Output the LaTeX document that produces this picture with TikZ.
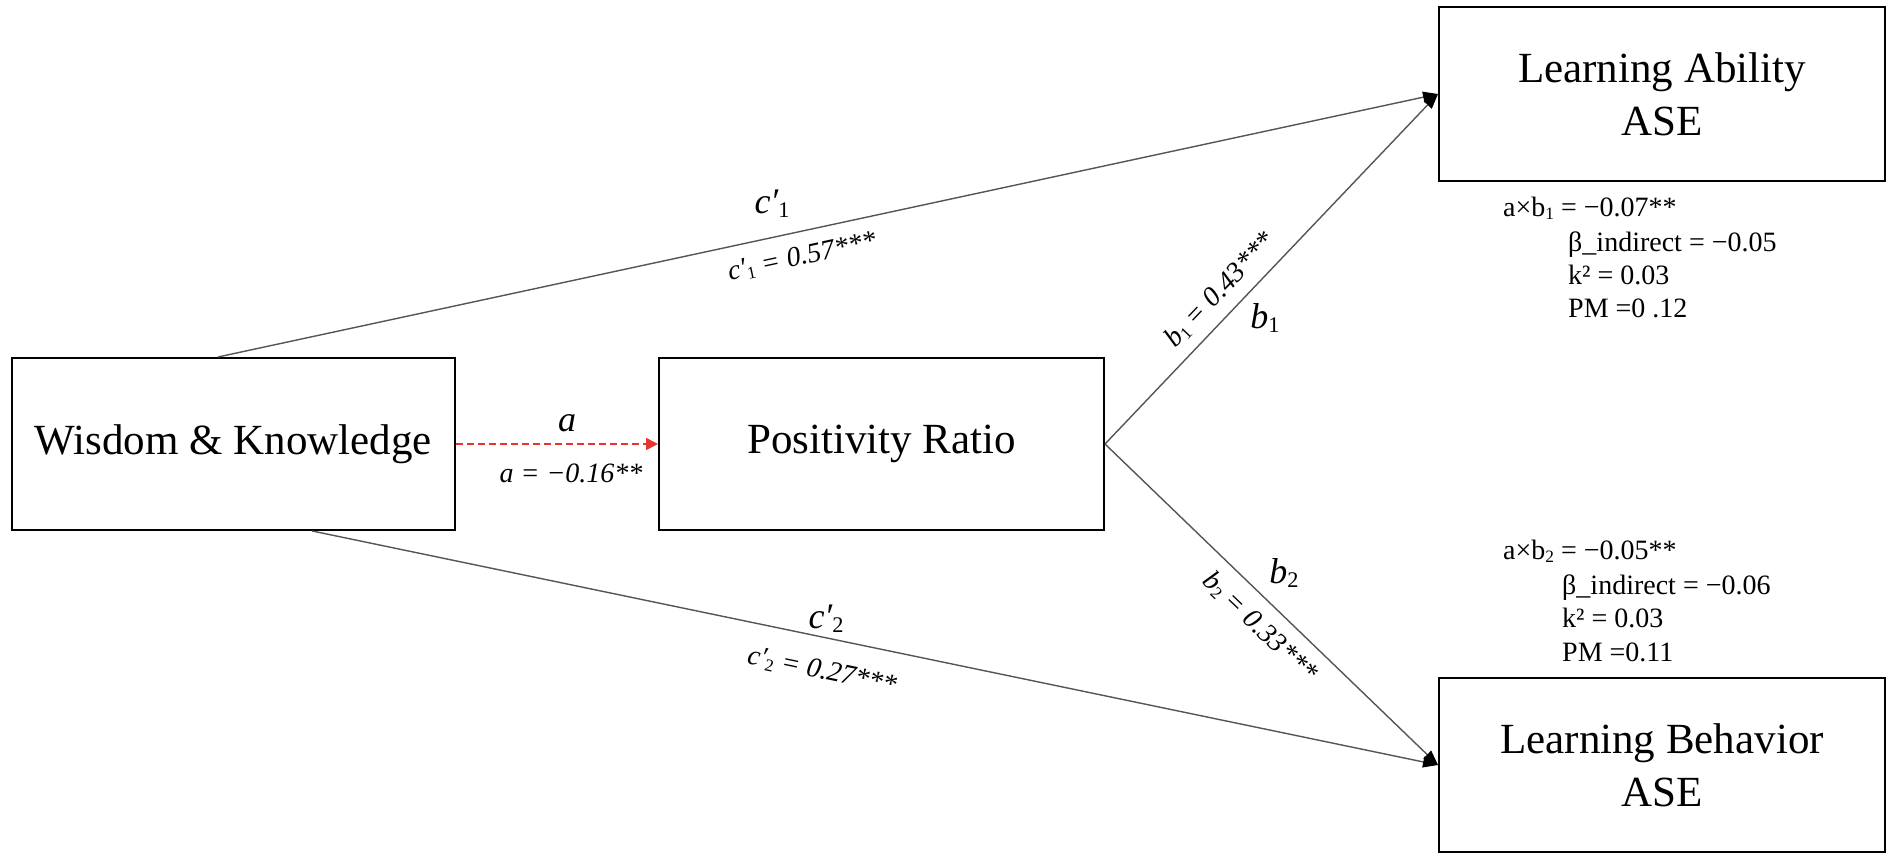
\documentclass[tikz,border=0pt]{standalone}
\usepackage{fontspec}
\usepackage{graphicx}
\setmainfont{Liberation Serif}
\usetikzlibrary{arrows.meta,calc}
\definecolor{dashred}{RGB}{232,52,48}
\definecolor{linegray}{RGB}{85,85,85}
\newcommand\lsub[1]{\raisebox{-0.12em}{\scalebox{0.62}{\upshape #1}}}
\begin{document}
\begin{tikzpicture}[x=1pt,y=-1pt,
  box/.style={draw=black,line width=2pt,inner sep=0pt,align=center,font=\fontsize{43}{53}\selectfont},
  conn/.style={draw=linegray,line width=1.4pt,-{Triangle[length=15pt,width=11pt,color=black]}},
  dashconn/.style={draw=dashred,line width=1.5pt,dash pattern=on 7pt off 4pt,-{Triangle[length=12pt,width=12pt,color=dashred]}},
  lbig/.style={inner sep=0pt,font=\fontsize{36}{40}\selectfont\itshape},
  lsmall/.style={inner sep=0pt,font=\fontsize{28}{32}\selectfont\itshape},
  stat/.style={inner sep=0pt,anchor=base west,font=\fontsize{28}{32}\selectfont}
]
\useasboundingbox (0,0) rectangle (1902,860);
\fill[white] (0,0) rectangle (1902,860);

\node[box,minimum width=443pt,minimum height=172pt] (wk) at (233.5,444) {Wisdom \& Knowledge};
\node[box,minimum width=445pt,minimum height=172pt] (pr) at (881.5,444) {Positivity Ratio};
\node[box,minimum width=446pt,minimum height=174pt] (la) at (1662,94) {Learning Ability\\ASE};
\node[box,minimum width=446pt,minimum height=174pt] (lb) at (1662,765) {Learning Behavior\\ASE};

\draw[conn] ($(wk.north west)!0.465!(wk.north east)$) -- (la.west);
\draw[conn] (pr.east) -- (la.west);
\draw[conn] (pr.east) -- (lb.west);
\draw[conn] ($(wk.south west)!0.677!(wk.south east)$) -- (lb.west);
\draw[dashconn] (wk.east) -- (pr.west);

% path labels
\node[lbig] (la-a) at (567,423) {a};
\node[lsmall] (lv-a) at (571,473) {a = −0.16**};
\node[lbig] (la-c1) at (772,204) {c′\lsub{1}};
\node[lsmall,rotate=12.2] (lv-c1) at (802,257) {c′\lsub{1} = 0.57***};
\node[lbig] (la-b1) at (1265,318) {b\lsub{1}};
\node[lsmall,rotate=46.3] (lv-b1) at (1220,290) {b\lsub{1} = 0.43***};
\node[lbig] (la-b2) at (1284,573) {b\lsub{2}};
\node[lsmall,rotate=-43.8] (lv-b2) at (1260,627) {b\lsub{2} = 0.33***};
\node[lbig] (la-c2) at (826,619) {c′\lsub{2}};
\node[lsmall,rotate=-11.8] (lv-c2) at (822,671) {c′\lsub{2} = 0.27***};

% statistics
\node[stat] (s1a) at (1503,216) {a×b\lsub{1} = −0.07**};
\node[stat] (s1b) at (1568,251) {β\_indirect = −0.05};
\node[stat] (s1c) at (1568,284) {k² = 0.03};
\node[stat] (s1d) at (1568,317) {PM =0 .12};
\node[stat] (s2a) at (1503,559) {a×b\lsub{2} = −0.05**};
\node[stat] (s2b) at (1562,594) {β\_indirect = −0.06};
\node[stat] (s2c) at (1562,627) {k² = 0.03};
\node[stat] (s2d) at (1562,661) {PM =0.11};
\end{tikzpicture}
\end{document}
